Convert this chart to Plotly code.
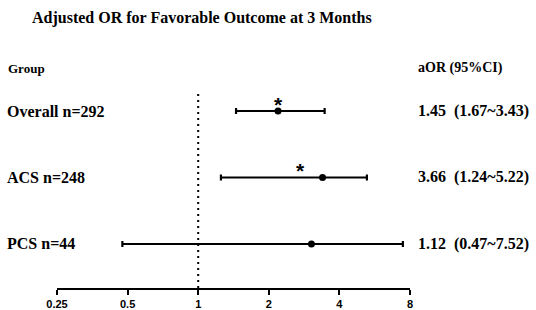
import math
import plotly.graph_objects as go

groups = ["Overall n=292", "ACS n=248", "PCS n=44"]
estimates = [2.19, 3.39, 3.04]
ci_lower = [1.45, 1.25, 0.475]
ci_upper = [3.46, 5.24, 7.46]
value_labels = ["1.45  (1.67~3.43)", "3.66  (1.24~5.22)", "1.12  (0.47~7.52)"]
significant = [True, True, False]
star_x = [2.19, 2.73, None]
tick_vals = [0.25, 0.5, 1, 2, 4, 8]
tick_text = ["0.25", "0.5", "1", "2", "4", "8"]

rows = [3, 2, 1]
serif = "Liberation Serif, Times New Roman, serif"
sans = "Liberation Sans, Arial, sans-serif"

fig = go.Figure()

# reference line at OR = 1
fig.add_trace(go.Scatter(
    x=[1, 1], y=[0.338, 3.285], mode="lines",
    line=dict(color="black", width=2, dash="2px,4px"),
    hoverinfo="skip", showlegend=False))

fig.add_trace(go.Scatter(
    x=estimates, y=rows, mode="markers",
    marker=dict(color="black", size=7),
    error_x=dict(type="data", symmetric=False,
                 array=[u - e for u, e in zip(ci_upper, estimates)],
                 arrayminus=[e - l for e, l in zip(estimates, ci_lower)],
                 color="black", thickness=2.2, width=3),
    showlegend=False))

annotations = []
for g, r, v in zip(groups, rows, value_labels):
    annotations.append(dict(x=-0.147, xref="paper", y=r, yref="y", text=g,
                            showarrow=False, xanchor="left", yanchor="middle",
                            font=dict(family=serif, size=16, color="black", weight="bold")))
    annotations.append(dict(x=1.017, xref="paper", y=r, yref="y", text=v.replace("  ", "\u00a0 "),
                            showarrow=False, xanchor="left", yanchor="middle",
                            font=dict(family=serif, size=16, color="black", weight="bold")))
for s, sx, r in zip(significant, star_x, rows):
    if s:
        annotations.append(dict(x=math.log10(sx), xref="x", y=r + 0.10, yref="y",
                                text="*", showarrow=False, xanchor="center", yanchor="middle",
                                font=dict(family=sans, size=21, color="black", weight="bold")))

annotations.append(dict(x=-0.145, xref="paper", y=3.646, yref="y", text="Group",
                        showarrow=False, xanchor="left", yanchor="middle",
                        font=dict(family=serif, size=13, color="black", weight="bold")))
annotations.append(dict(x=1.017, xref="paper", y=3.646, yref="y", text="aOR (95%CI)",
                        showarrow=False, xanchor="left", yanchor="middle",
                        font=dict(family=serif, size=14, color="black", weight="bold")))
annotations.append(dict(x=-0.0765, xref="paper", y=1.184, yref="paper",
                        text="Adjusted OR for Favorable Outcome at 3 Months",
                        showarrow=False, xanchor="left", yanchor="middle",
                        font=dict(family=serif, size=16, color="black", weight="bold")))

fig.update_layout(
    width=536, height=310,
    margin=dict(l=57, r=126, t=60, b=22),
    paper_bgcolor="white", plot_bgcolor="white",
    annotations=annotations,
    xaxis=dict(type="log", range=[math.log10(0.25), math.log10(8)],
               tickvals=tick_vals, ticktext=tick_text, automargin=False,
               showline=True, linecolor="black", linewidth=2,
               ticks="outside", ticklen=5, tickwidth=2, tickcolor="black",
               showgrid=False, zeroline=False,
               tickfont=dict(family=sans, size=11, color="black", weight="bold")),
    yaxis=dict(range=[0.338, 3.767], visible=False, showgrid=False, automargin=False),
)

fig.write_html("out.html", config={"displayModeBar": False},
               post_script="document.body.style.margin='0';document.body.style.overflow='hidden';")
